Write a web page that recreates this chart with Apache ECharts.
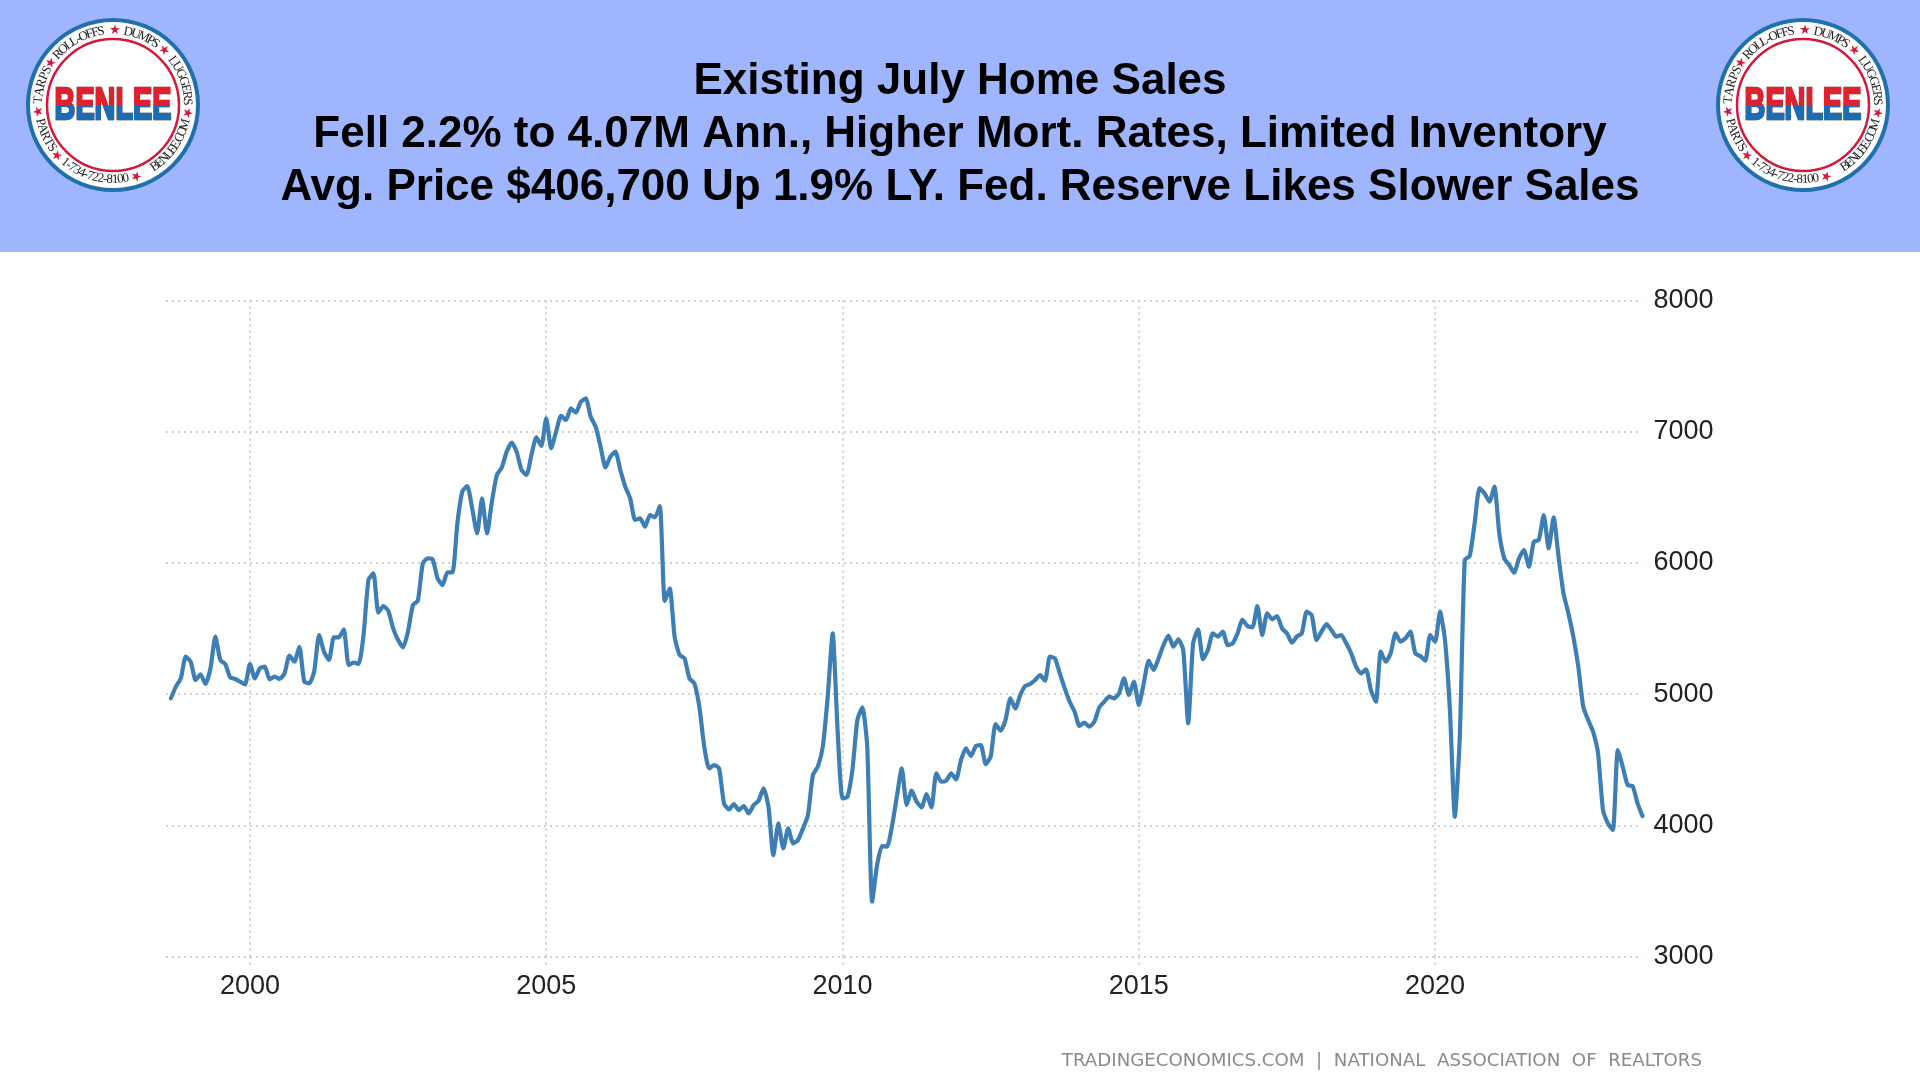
<!DOCTYPE html>
<html>
<head>
<meta charset="utf-8">
<title>Existing July Home Sales</title>
<script src="https://cdn.jsdelivr.net/npm/echarts@6/dist/echarts.min.js"></script>
<style>
    html, body { margin: 0; padding: 0; background: #fff; }
    #chart { width: 1920px; height: 1081px; }
</style>
</head>
<body>
<div id="chart"></div>
<script>
// monthly values, first month is Sep 1998
var startYear = 1998, startMonth = 8;
var sales = [
    4968, 5057, 5120, 5285, 5247, 5107, 5151, 5077, 5196, 5438, 5260, 5229, 5128, 5115, 5095, 5074,
    5229, 5120, 5196, 5209, 5112, 5133, 5115, 5158, 5293, 5247, 5361, 5095,
    5082, 5171, 5450, 5323, 5260, 5433, 5433, 5494, 5222, 5240, 5229, 5450,
    5870, 5920, 5621, 5671, 5636, 5501, 5412, 5356, 5476, 5679, 5712, 5996,
    6035, 6027, 5882, 5831, 5928, 5928, 6301, 6543, 6586, 6416, 6225, 6492,
    6225, 6467, 6670, 6728, 6848, 6916, 6848, 6708, 6670, 6822, 6957, 6891,
    7102, 6873, 7000, 7120, 7089, 7178, 7145, 7229, 7254, 7114, 7038, 6886,
    6728, 6810, 6848, 6708, 6581, 6492, 6327, 6339, 6276, 6365, 6347, 6433,
    5710, 5806, 5438, 5298, 5272, 5120, 5082, 4904, 4599, 4434, 4459, 4434,
    4167, 4121, 4162, 4116, 4147, 4091, 4154, 4188, 4282, 4142, 3773, 4015,
    3824, 3977, 3862, 3888, 3977, 4078, 4383, 4447, 4599, 4980, 5463, 4726,
    4205, 4218, 4421, 4802, 4899, 4599, 3418, 3697, 3842, 3837, 3989, 4218,
    4434, 4155, 4264, 4180, 4137, 4238, 4137, 4396, 4332, 4340, 4396, 4350,
    4498, 4587, 4528, 4604, 4612, 4467, 4523, 4772, 4721, 4802, 4968, 4891,
    4993, 5062, 5077, 5107, 5145, 5102, 5285, 5273, 5158, 5044, 4942, 4866,
    4757, 4782, 4752, 4790, 4899, 4942, 4980, 4968, 5006, 5120, 4993, 5095,
    4917, 5082, 5255, 5184, 5272, 5374, 5445, 5361, 5417, 5336, 4777, 5387,
    5494, 5265, 5336, 5463, 5438, 5476, 5374, 5387, 5463, 5565, 5519, 5509,
    5671, 5450, 5616, 5570, 5595, 5501, 5463, 5392, 5438, 5463, 5628, 5603,
    5412, 5476, 5534, 5488, 5438, 5450, 5387, 5311, 5209, 5158, 5189, 5031,
    4942, 5323, 5247, 5311, 5463, 5400, 5425, 5476, 5310, 5290, 5255, 5450,
    5399, 5628, 5412, 4878, 4065, 4675, 6022, 6052, 6301, 6570, 6530, 6467,
    6581, 6225, 6035, 5984, 5925, 6035, 6098, 5971, 6162, 6174, 6365, 6111,
    6347, 6047, 5768, 5615, 5437, 5209, 4904, 4802, 4713, 4548, 4116, 4015,
    3964, 4574, 4446, 4307, 4299, 4167, 4070
];
var tickYears = ['2000', '2005', '2010', '2015', '2020'];
var titleLines = [
    'Existing July Home Sales',
    'Fell 2.2% to 4.07M Ann., Higher Mort. Rates, Limited Inventory',
    'Avg. Price $406,700 Up 1.9% LY. Fed. Reserve Likes Slower Sales'
];
var sourceText = 'TRADINGECONOMICS.COM  |  NATIONAL  ASSOCIATION  OF  REALTORS';

// one empty month in front so the grid lines start left of the curve
var months = ['1998-08'];
for (var i = 0; i < sales.length; i++) {
    var m = startMonth + i;
    months.push((startYear + Math.floor(m / 12)) + '-' + ('0' + (m % 12 + 1)).slice(-2));
}
var values = [null].concat(sales);

function isYearTick(index, value) {
    return value.slice(5) === '01' && tickYears.indexOf(value.slice(0, 4)) >= 0;
}

// round stamp in the header
var topArcs = [['TARPS', -89, -60], ['ROLL-OFFS', -50, -7], ['DUMPS', 9, 37], ['LUGGERS', 51, 90]];
var bottomArcs = [['BENLEE.COM', 148, 102], ['1-734-722-8100', 222, 168], ['PARTS', 259, 234]];
var starAngles = [1.5, 43, 96, 162, 228, 265, 304];
var ringFont = '13px "Liberation Serif"';
var ctx = document.createElement('canvas').getContext('2d');
ctx.font = ringFont;

// angle of each letter, spaced by the letter widths
function letterAngles(word, from, to) {
    var total = ctx.measureText(word).width, out = [], run = 0;
    for (var k = 0; k < word.length; k++) {
        var w = ctx.measureText(word[k]).width;
        out.push(from + (to - from) * (run + w / 2) / total);
        run += w;
    }
    return out;
}

function logo(cx, cy) {
    var els = [
        { type: 'circle', shape: { cx: cx, cy: cy, r: 85 }, style: { fill: '#fff', stroke: '#1f70ad', lineWidth: 4 } },
        { type: 'circle', shape: { cx: cx, cy: cy, r: 66 }, style: { fill: '#fff', stroke: '#d3193a', lineWidth: 2.5 } }
    ];
    function ch(text, a, rot, font, fill) {
        var rad = a * Math.PI / 180;
        els.push({
            type: 'text',
            x: cx + 74.5 * Math.sin(rad),
            y: cy - 74.5 * Math.cos(rad),
            rotation: rot * Math.PI / 180,
            style: { text: text, font: font, fill: fill, align: 'center', verticalAlign: 'middle' }
        });
    }
    topArcs.forEach(function (arc) {
        letterAngles(arc[0], arc[1], arc[2]).forEach(function (a, k) {
            ch(arc[0][k], a, -a, ringFont, '#222');
        });
    });
    bottomArcs.forEach(function (arc) {
        letterAngles(arc[0], arc[1], arc[2]).forEach(function (a, k) {
            ch(arc[0][k], a, 180 - a, ringFont, '#222');
        });
    });
    starAngles.forEach(function (a) {
        ch('★', a, -a, '13px "DejaVu Sans"', '#d3193a');
    });
    // text cannot take a gradient, so black letters get coloured by two lighten rects
    els.push({
        type: 'text',
        x: cx,
        y: cy + 2,
        scaleX: 0.64,
        style: {
            text: 'BENLEE',
            font: 'bold 45px "Liberation Sans"',
            fill: '#000',
            stroke: '#000',
            lineWidth: 2.5,
            align: 'center',
            verticalAlign: 'middle'
        }
    });
    els.push({ type: 'rect', shape: { x: cx - 62, y: cy - 20, width: 124, height: 21 }, style: { fill: '#e0202f', blend: 'lighten' } });
    els.push({ type: 'rect', shape: { x: cx - 62, y: cy + 1, width: 124, height: 21 }, style: { fill: '#1a6cb4', blend: 'lighten' } });
    return els;
}

var chart = echarts.init(document.getElementById('chart'));
chart.setOption({
    animation: false,
    backgroundColor: '#fff',
    title: {
        text: titleLines.join('\n'),
        left: 955,
        top: 50.5,
        textAlign: 'center',
        textStyle: {
            fontFamily: 'Liberation Sans',
            fontWeight: 'bold',
            fontSize: 44,
            lineHeight: 53,
            color: '#000'
        }
    },
    grid: { left: 166, width: 1476.5, top: 300.5, height: 656 },
    xAxis: {
        type: 'category',
        data: months,
        boundaryGap: false,
        axisLine: { show: false },
        axisTick: {
            show: true,
            length: 9,
            interval: isYearTick,
            lineStyle: { color: '#d2d2d2', width: 2, type: [2, 4] }
        },
        axisLabel: {
            interval: isYearTick,
            margin: 17,
            fontFamily: 'Liberation Sans',
            fontSize: 27,
            color: '#222',
            formatter: function (v) { return v.slice(0, 4); }
        },
        splitLine: {
            show: true,
            interval: isYearTick,
            lineStyle: { color: '#d2d2d2', width: 2, type: [2, 4] }
        }
    },
    yAxis: {
        type: 'value',
        position: 'right',
        min: 3000,
        max: 8000,
        interval: 1000,
        axisLine: { show: false },
        axisTick: { show: false },
        axisLabel: {
            margin: 11,
            padding: [2, 0, 0, 0],
            fontFamily: 'Liberation Sans',
            fontSize: 27,
            color: '#222',
            formatter: function (v) { return String(v); }
        },
        splitLine: { lineStyle: { color: '#d2d2d2', width: 2, type: [2, 4] } }
    },
    series: [{
        type: 'line',
        data: values,
        showSymbol: false,
        smooth: 0.2,
        connectNulls: false,
        lineStyle: { color: '#3d7fb5', width: 4.2, join: 'round', cap: 'round' }
    }],
    graphic: {
        elements: [
            { type: 'rect', z: -10, shape: { x: 0, y: 0, width: 1920, height: 252 }, style: { fill: '#9fb6ff' } },
            { type: 'group', children: logo(113, 105) },
            { type: 'group', children: logo(1803, 105) },
            {
                type: 'text',
                x: 1702,
                y: 1061,
                style: {
                    text: sourceText,
                    font: '18.2px "DejaVu Sans"',
                    fill: '#8a8a8a',
                    align: 'right',
                    verticalAlign: 'middle'
                }
            }
        ]
    }
});
</script>
</body>
</html>
